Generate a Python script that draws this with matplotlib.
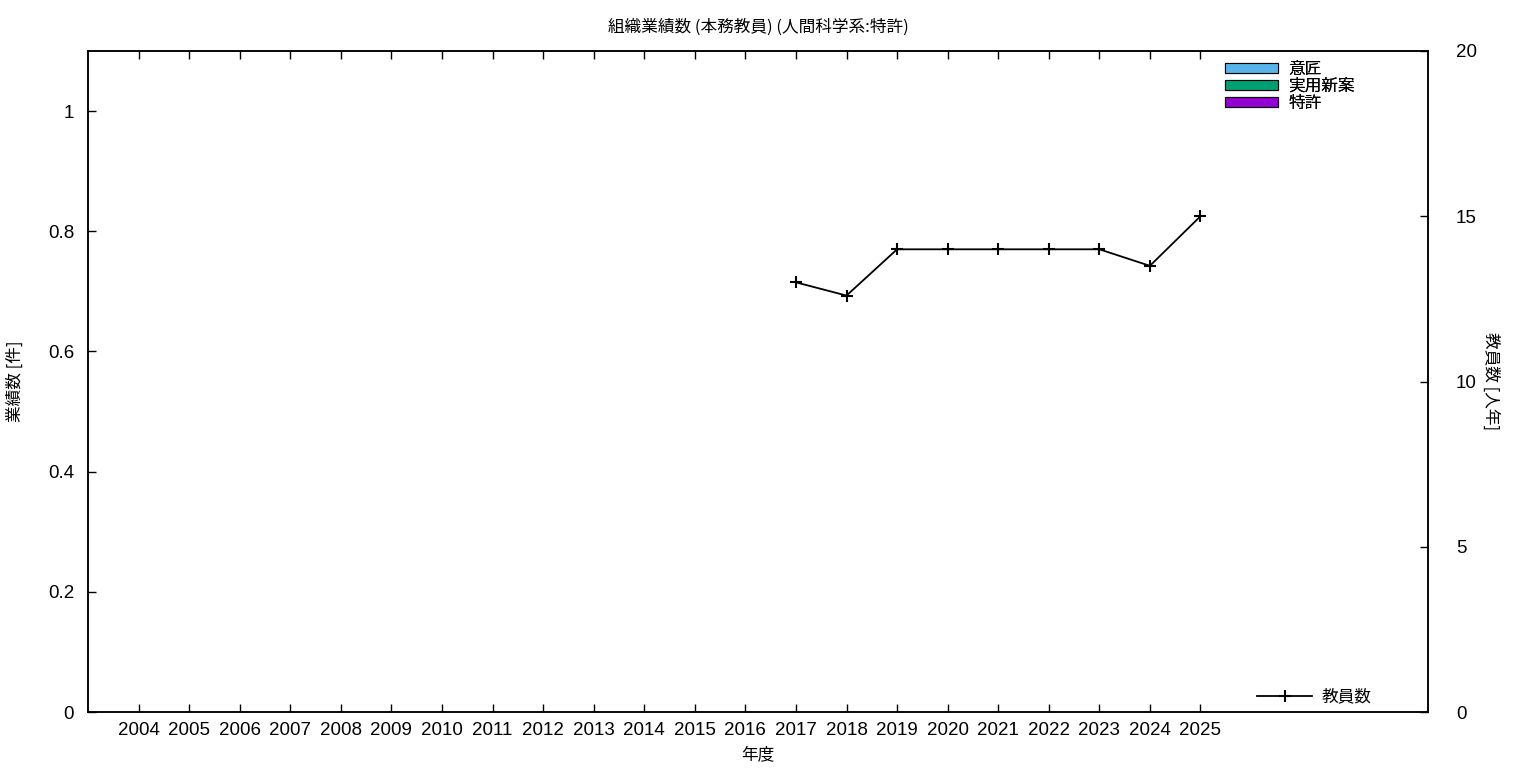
import matplotlib
matplotlib.use("Agg")
import matplotlib.pyplot as plt
from matplotlib.patches import Patch
from matplotlib.lines import Line2D

plt.rcParams['font.family'] = ['Liberation Sans', 'Noto Sans CJK JP', 'DejaVu Sans']
jp = {'family': ['Noto Sans CJK JP', 'DejaVu Sans'], 'size': 12}

# data
years = list(range(2004, 2026))
design = [0] * len(years)      # 意匠
utility = [0] * len(years)     # 実用新案
patent = [0] * len(years)      # 特許
staff_years = [2017, 2018, 2019, 2020, 2021, 2022, 2023, 2024, 2025]
staff = [13.0, 12.6, 14.0, 14.0, 14.0, 14.0, 14.0, 13.5, 15.0]

fig = plt.figure(figsize=(15.36, 7.68), dpi=100)
ax = fig.add_axes([0.0573, 0.0729, 0.8724, 0.8607])
ax2 = ax.twinx()

colors = ["#56b4e9", "#009e73", "#9400d3"]
bottom = [0] * len(years)
for vals, c in zip([patent, utility, design], colors[::-1]):
    ax.bar(years, vals, 0.5, bottom=bottom, color=c, edgecolor="black", linewidth=0, zorder=1)
    bottom = [b + v for b, v in zip(bottom, vals)]

ax.set_xlim(2003, 2029.5)
ax.set_ylim(0, 1.1)
ax.set_yticks([0, 0.2, 0.4, 0.6, 0.8, 1.0])
ax.set_yticklabels(["0", "0.2", "0.4", "0.6", "0.8", "1"])
ax.set_xticks(years)
ax.set_xticklabels([str(y) for y in years])
ax.tick_params(axis="x", direction="in", top=True, length=6, width=1, labelsize=13.5, pad=7)
ax.tick_params(axis="y", direction="in", length=6, width=1, labelsize=13.5, pad=10)
ax.set_xlabel("年度", fontdict=jp)
ax.xaxis.set_label_coords(0.5, -0.051)
ax.set_ylabel("業績数 [件]", fontdict=jp, va="center")
ax.yaxis.set_label_coords(-0.0545, 0.5)
ax.set_title("組織業績数 (本務教員) (人間科学系:特許)", fontdict=jp, pad=14)

ax2.plot(staff_years, staff, color="black", linewidth=1.3, marker="+", markersize=8,
         markeredgewidth=1.5)
ax2.set_ylim(0, 20)
ax2.set_yticks([0, 5, 10, 15, 20])
ax2.tick_params(axis="y", direction="in", length=6, width=1, labelsize=13.5, pad=20)
ax2.set_ylabel("教員数 [人年]", fontdict=jp, rotation=-90, va="center")
ax2.yaxis.set_label_coords(1.047, 0.5)

for a in (ax, ax2):
    for s in a.spines.values():
        s.set_linewidth(1.1)

handles = [Patch(facecolor=c, edgecolor="black", linewidth=0.8) for c in colors]
leg1 = ax.legend(handles, ["意匠", "実用新案", "特許"], loc="upper left",
                 bbox_to_anchor=(0.8485, 0.985), frameon=False, prop=jp,
                 handlelength=3.2, handleheight=0.6, labelspacing=0.0,
                 handletextpad=0.6, borderaxespad=0, borderpad=0)
ax.add_artist(leg1)
h2 = [Line2D([0], [0], color="black", linewidth=1.3, marker="+", markersize=8,
             markeredgewidth=1.5)]
ax2.legend(h2, ["教員数"], loc="center left", bbox_to_anchor=(0.8724, 0.0227),
           frameon=False, prop=jp, handlelength=3.3, handletextpad=0.6,
           borderaxespad=0, borderpad=0)

fig.savefig("out.png", dpi=100)
